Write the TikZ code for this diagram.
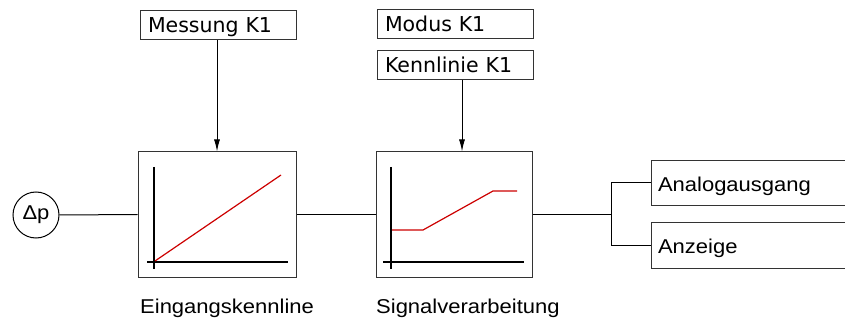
\documentclass[tikz,border=0pt]{standalone}
\usepackage{fontspec}
\setmainfont{Liberation Sans}[FakeStretch=1.1]
\newfontfamily\boxfont{DejaVu Sans}
\usetikzlibrary{arrows.meta}
\definecolor{curvered}{HTML}{CC0000}
\definecolor{boxgray}{HTML}{333333}
\tikzset{
  x=1pt, y=-1pt,
  paramboxstyle/.style={draw=boxgray, line width=1pt, rectangle, inner sep=0pt,
    minimum width=156pt, minimum height=29pt, text width=140pt, align=left,
    text height=15pt, text depth=0pt,
    font=\boxfont\fontsize{20.5pt}{24pt}\selectfont},
  blockstyle/.style={draw=boxgray, line width=1pt, rectangle, inner sep=0pt,
    minimum height=125pt},
  outboxstyle/.style={draw=boxgray, line width=1pt, rectangle, inner sep=0pt,
    minimum width=199pt, minimum height=45pt, text width=185pt, align=left,
    text height=17pt, text depth=0pt,
    font=\fontsize{20pt}{24pt}\selectfont},
  labelstyle/.style={anchor=base west, inner sep=0pt,
    font=\fontsize{20pt}{24pt}\selectfont},
  wirestyle/.style={draw=black, line width=1pt},
  arrowstyle/.style={wirestyle, -{Latex[width=6pt,length=12pt]}},
  axisstyle/.style={draw=black, line width=2pt},
  curvestyle/.style={draw=curvered, line width=1.2pt},
}
\begin{document}
\begin{tikzpicture}
\useasboundingbox (0,0) rectangle (845,320);

% input circle
\node[draw=black, line width=1pt, circle, minimum size=46pt, inner sep=0pt,
  font=\fontsize{20pt}{24pt}\selectfont] (dp) at (36,215) {Δp};

% blocks
\node[blockstyle, minimum width=158pt] (b1) at (217,214.5) {};
\node[blockstyle, minimum width=156pt] (b2) at (454,214.5) {};

% parameter boxes
\node[paramboxstyle] (mess) at (218,25.5) {Messung K1};
\node[paramboxstyle] (modus) at (455,24.5) {Modus K1};
\node[paramboxstyle] (kenn) at (455,65) {Kennlinie K1};

% output boxes
\node[outboxstyle] (ana) at (750.5,183) {Analogausgang};
\node[outboxstyle] (anz) at (750.5,245.5) {Anzeige};

% labels
\node[labelstyle] (l1) at (140,313) {Eingangskennline};
\node[labelstyle] (l2) at (376,313) {Signalverarbeitung};

% axes and curves, block 1
\draw[axisstyle] (154,167) -- (154,269);
\draw[axisstyle] (147,262) -- (288,262);
\draw[curvestyle] (155,261) -- (281,175);

% axes and curves, block 2
\draw[axisstyle] (391,167) -- (391,269);
\draw[axisstyle] (383,262) -- (524,262);
\draw[curvestyle] (392,230) -- (423,230) -- (493,191) -- (517,191);

% connectors
\coordinate (a1) at (217,0);
\coordinate (a2) at (462,0);
\draw[arrowstyle] (mess.south -| a1) -- (b1.north -| a1);
\draw[arrowstyle] (kenn.south -| a2) -- (b2.north -| a2);
\draw[wirestyle] (dp.east) -- (b1.west);
\draw[wirestyle] (b1.east) -- (b2.west);
\coordinate (split) at (611,214.5);
\draw[wirestyle] (b2.east) -- (split);
\draw[wirestyle] (split) |- (ana.west);
\draw[wirestyle] (split) |- (anz.west);
\end{tikzpicture}
\end{document}
